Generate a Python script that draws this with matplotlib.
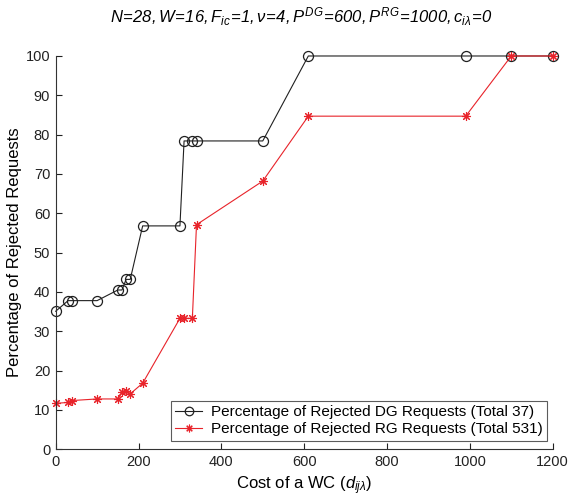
import matplotlib
matplotlib.use("Agg")
import matplotlib.pyplot as plt

plt.rcParams['font.family'] = ['Liberation Sans', 'DejaVu Sans']
plt.rcParams['mathtext.fontset'] = 'custom'
plt.rcParams['mathtext.it'] = 'Liberation Sans:italic'
plt.rcParams['mathtext.rm'] = 'Liberation Sans:italic'
plt.rcParams['mathtext.sf'] = 'Liberation Sans'
plt.rcParams['mathtext.default'] = 'it'

# Cost of a wavelength channel
cost_dg = [0, 30, 40, 100, 150, 160, 170, 180, 210, 300, 310, 330, 340, 500, 610, 990, 1100, 1200]
rejected_dg = [35.1, 37.8, 37.8, 37.8, 40.5, 40.5, 43.2, 43.2, 56.8, 56.8,
               78.4, 78.4, 78.4, 78.4, 100, 100, 100, 100]

cost_rg = [0, 30, 40, 100, 150, 160, 170, 180, 210, 300, 310, 330, 340, 500, 610, 990, 1100, 1200]
rejected_rg = [11.7, 11.9, 12.4, 12.8, 12.8, 14.5, 14.9, 14.1, 16.8, 33.3,
               33.3, 33.3, 57.1, 68.2, 84.7, 84.7, 100, 100]

x_ticks = [0, 200, 400, 600, 800, 1000, 1200]
y_ticks = [0, 10, 20, 30, 40, 50, 60, 70, 80, 90, 100]

label_dg = 'Percentage of Rejected DG Requests (Total 37)'
label_rg = 'Percentage of Rejected RG Requests (Total 531)'
title = (r'$N\!=\!28, W\!=\!16, F_{ic}\!=\!1, \nu\!=\!4, P^{DG}\!=\!600, '
         r'P^{RG}\!=\!1000, c_{i\lambda}\!=\!0$')

fig = plt.figure(figsize=(5.70, 4.99), dpi=100)
ax = fig.add_axes([0.0977, 0.0996, 0.8719, 0.7882])

ax.plot(cost_dg, rejected_dg, color='#202020', linewidth=0.8, marker='o',
        markersize=7.2, markerfacecolor='none', markeredgecolor='#202020',
        markeredgewidth=0.9, label=label_dg)
ax.plot(cost_rg, rejected_rg, color='#e8232a', linewidth=0.8, marker=(8, 2, 0),
        markersize=6.5, markeredgecolor='#e8232a', markeredgewidth=0.8,
        label=label_rg)

ax.set_xlim(0, 1200)
ax.set_ylim(0, 100)
ax.set_xticks(x_ticks)
ax.set_yticks(y_ticks)
ax.tick_params(direction='in', length=4, width=0.8, labelsize=10.5,
               colors='#222222', pad=4)
for side in ('top', 'right'):
    ax.spines[side].set_visible(False)
for side in ('left', 'bottom'):
    ax.spines[side].set_linewidth(0.8)
    ax.spines[side].set_color('#333333')
for line in ax.lines:
    line.set_clip_on(False)

ax.set_xlabel(r'Cost of a WC ($d_{ij\lambda}$)', fontsize=12, labelpad=4)
ax.set_ylabel('Percentage of Rejected Requests', fontsize=12)
ax.yaxis.set_label_coords(-0.068, 0.5)
fig.text(0.528, 0.966, title, ha='center', va='center', fontsize=12)

leg = ax.legend(loc='lower right', bbox_to_anchor=(0.9885, 0.021), fontsize=11,
                frameon=True, fancybox=False, edgecolor='#333333',
                borderpad=0.3, handlelength=1.75, labelspacing=0.2,
                handletextpad=0.55, borderaxespad=0.0, markerscale=0.85)
leg.get_frame().set_linewidth(0.8)

fig.savefig('out.png', dpi=100)
